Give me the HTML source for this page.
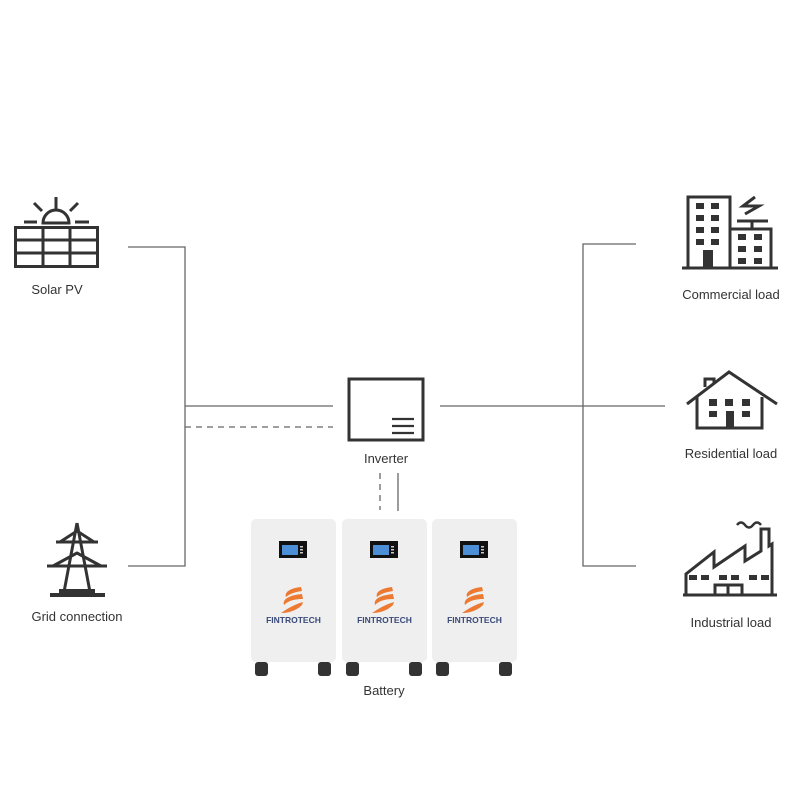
<!DOCTYPE html>
<html><head><meta charset="utf-8"><style>
html,body{margin:0;padding:0;background:#fff}
svg{display:block}
text{font-family:"Liberation Sans",sans-serif;fill:#333}
</style></head><body>
<svg width="801" height="801" viewBox="0 0 801 801" xmlns="http://www.w3.org/2000/svg">
<defs>
<g id="batt">
  <rect x="0" y="0" width="85" height="143" rx="5" fill="#efefef"/>
  <rect x="28" y="22" width="28" height="17" fill="#111"/>
  <rect x="31" y="26" width="16" height="10" fill="#4d8fd6"/>
  <rect x="49" y="27" width="3" height="1.5" fill="#ccc"/><rect x="49" y="30" width="3" height="1.5" fill="#ccc"/><rect x="49" y="33" width="3" height="1.5" fill="#ccc"/>
  <path d="M50 68 C40 69 33 73 35 78 C40 74 45 73 51 72 Z" fill="#ec7a32"/>
  <path d="M51 75 C39 76 31 80 33 86 C38 81 45 80 52 80 Z" fill="#ec7a32"/>
  <path d="M52 83 C42 86 36 90 30 94 C40 94 47 90 51 86 Z" fill="#ec7a32"/>
  <text x="42.5" y="104" font-size="8.5" font-weight="bold" text-anchor="middle" style="fill:#3a4a7a">FINTROTECH</text>
  <rect x="4" y="143" width="13" height="14" rx="3" fill="#333"/>
  <rect x="67" y="143" width="13" height="14" rx="3" fill="#333"/>
</g>
</defs>
<g stroke="#666" stroke-width="1.3" fill="none">
  <path d="M128 247 H185 V566 H128"/>
  <path d="M185 406 H333"/>
  <path d="M185 427 H333" stroke-dasharray="6,5"/>
  <path d="M440 406 H665"/>
  <path d="M636 244 H583 V566 H636"/>
  <path d="M380 473 V510" stroke-dasharray="6,5"/>
  <path d="M398 473 V511"/>
</g>
<rect x="349" y="379" width="74" height="61" fill="#fff" stroke="#333" stroke-width="3"/>
<g stroke="#333" stroke-width="2.2"><path d="M392 419H414M392 426H414M392 433H414"/></g>
<text x="386" y="463" font-size="13" text-anchor="middle">Inverter</text>
<use href="#batt" x="251" y="519"/>
<use href="#batt" x="342" y="519"/>
<use href="#batt" x="432" y="519"/>
<text x="384" y="695" font-size="13" text-anchor="middle">Battery</text>
<g stroke="#333" stroke-width="3" fill="none">
  <rect x="15.5" y="227.5" width="82" height="39"/>
  <path d="M15 240H98M15 253H98M43 227V267M70 227V267"/>
  <path d="M43 223 A13 13 0 0 1 69 223 Z"/>
  <path d="M24 222H37M75 222H89M56 197V210M34 203L42 211M78 203L70 211"/>
</g>
<text x="57" y="294" font-size="13" text-anchor="middle">Solar PV</text>
<g stroke="#333" stroke-width="3" fill="none" stroke-linejoin="round">
  <path d="M77 523 L64 592 M77 523 L90 592"/>
  <path d="M56 542 H98 M60 542 L77 531 L94 542"/>
  <path d="M47 566 H107 M53 566 L77 553 L101 566"/>
</g>
<rect x="59" y="589" width="36" height="4" fill="#333"/>
<rect x="50" y="593" width="55" height="4" fill="#333"/>
<text x="77" y="621" font-size="13" text-anchor="middle">Grid connection</text>
<g stroke="#333" stroke-width="3" fill="none">
  <rect x="688" y="197" width="42" height="71"/>
  <rect x="730" y="229" width="41" height="39"/>
  <path d="M682 268H778 M737 221H768 M752 221V228 M755 197 L743 206 H759 L745 214"/>
</g>
<g fill="#333">
  <rect x="696" y="203" width="8" height="6"/><rect x="711" y="203" width="8" height="6"/>
  <rect x="696" y="215" width="8" height="6"/><rect x="711" y="215" width="8" height="6"/>
  <rect x="696" y="227" width="8" height="6"/><rect x="711" y="227" width="8" height="6"/>
  <rect x="696" y="239" width="8" height="6"/><rect x="711" y="239" width="8" height="6"/>
  <rect x="703" y="250" width="10" height="18"/>
  <rect x="738" y="234" width="8" height="6"/><rect x="754" y="234" width="8" height="6"/>
  <rect x="738" y="246" width="8" height="6"/><rect x="754" y="246" width="8" height="6"/>
  <rect x="738" y="258" width="8" height="6"/><rect x="754" y="258" width="8" height="6"/>
</g>
<text x="731" y="299" font-size="13" text-anchor="middle">Commercial load</text>
<g stroke="#333" stroke-width="3" fill="none">
  <path d="M687 404 L729 372 L777 404"/>
  <path d="M697 397 V428 H762 V397"/>
  <path d="M705 387 V379 H714 V384"/>
</g>
<g fill="#333">
  <rect x="709" y="399" width="8" height="7"/><rect x="725" y="399" width="8" height="7"/><rect x="742" y="399" width="8" height="7"/>
  <rect x="709" y="411" width="8" height="6"/><rect x="742" y="411" width="8" height="6"/>
  <rect x="726" y="411" width="8" height="17"/>
</g>
<text x="731" y="458" font-size="13" text-anchor="middle">Residential load</text>
<g stroke="#333" stroke-width="3" fill="none" stroke-linejoin="miter">
  <path d="M686 595 V574 L714 552 V567 L745 546 V561 L761 551 V529 H769 V546 L772 544 V595"/>
  <path d="M683 595 H777"/>
  <path d="M715 595 V585 H742 V595 M728 585 V595"/>
  <path d="M737 525 Q741 520 745 525 T753 525 T761 525" stroke-width="2.5"/>
</g>
<g fill="#333">
  <rect x="689" y="575" width="8" height="5"/><rect x="701" y="575" width="8" height="5"/>
  <rect x="719" y="575" width="8" height="5"/><rect x="731" y="575" width="8" height="5"/>
  <rect x="749" y="575" width="8" height="5"/><rect x="761" y="575" width="8" height="5"/>
</g>
<text x="731" y="627" font-size="13" text-anchor="middle">Industrial load</text>
</svg>
</body></html>
